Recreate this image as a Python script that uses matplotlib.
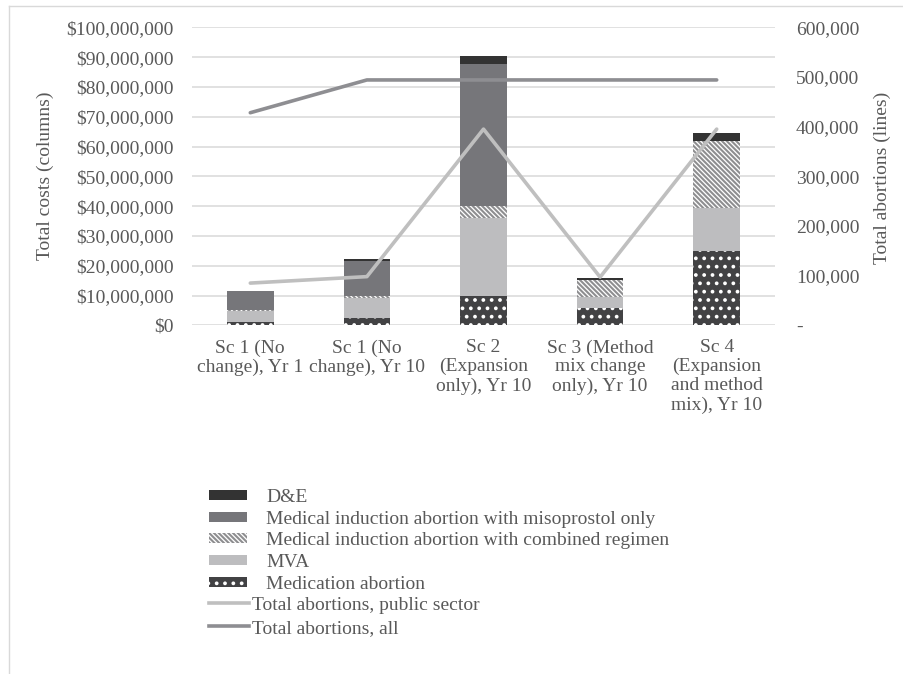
import matplotlib

matplotlib.use("Agg")
import matplotlib.pyplot as plt
from matplotlib.ticker import FuncFormatter, MultipleLocator
from matplotlib.patches import Patch
from matplotlib.lines import Line2D
import numpy as np

# Данные (в млн долларов и абортах)
categories = [
    "Sc 1 (No\nchange), Yr 1",
    "Sc 1 (No\nchange), Yr 10",
    "Sc 2\n(Expansion\nonly), Yr 10",
    "Sc 3 (Method\nmix change\nonly), Yr 10",
    "Sc 4\n(Expansion\nand method\nmix), Yr 10",
]
medication = [1.2, 2.3, 10.0, 5.9, 24.8]
mva = [3.6, 6.7, 26.0, 3.7, 14.6]
combined = [0.5, 0.8, 4.0, 5.6, 22.3]
misoprostol = [6.2, 11.7, 47.8, 0.1, 0.1]
dne = [0.1, 0.7, 2.7, 0.5, 2.6]
public_sector = [85000, 98000, 395000, 97000, 395000]
all_abortions = [428000, 494000, 494000, 494000, 494000]

TEXT_COLOR = "#595959"
GRID_COLOR = "#D9D9D9"
FONT = "Liberation Serif"
FS = 14

plt.rcParams["font.family"] = [FONT, "DejaVu Serif"]
plt.rcParams["hatch.linewidth"] = 1.5

fig = plt.figure(figsize=(9.04, 6.74), dpi=100)
W, H = 904, 674
ax = fig.add_axes([192 / W, 1 - 325.3 / H, (775 - 192) / W, (325.3 - 27.3) / H])

x = np.arange(len(categories))
bw = 0.4

# Стек столбцов: (значения, цвет, штриховка, цвет штриховки, подпись)
stack = [
    (medication, "#424244", "..", "white", "Medication abortion"),
    (mva, "#BDBDBF", None, None, "MVA"),
    (combined, "white", "\\" * 7, "#8E8E90", "Medical induction abortion with combined regimen"),
    (misoprostol, "#76767A", None, None, "Medical induction abortion with misoprostol only"),
    (dne, "#333333", None, None, "D&E"),
]

bottom = np.zeros(len(categories))
handles = {}
for vals, color, hatch, hcolor, label in stack:
    vals = np.array(vals) * 1e6
    kw = dict(width=bw, bottom=bottom, color=color, linewidth=0, zorder=2)
    if hatch:
        kw["hatch"] = hatch
        kw["edgecolor"] = hcolor
    ax.bar(x, vals, **kw)
    bottom = bottom + vals
    handles[label] = Patch(facecolor=color, hatch=hatch,
                           edgecolor=hcolor if hatch else color, linewidth=0)

ax.set_xlim(-0.5, len(categories) - 0.5)
ax.set_ylim(0, 100e6)
ax.yaxis.set_major_locator(MultipleLocator(10e6))
ax.yaxis.set_major_formatter(FuncFormatter(lambda v, p: f"${v:,.0f}"))
ax.yaxis.grid(True, color=GRID_COLOR, linewidth=1.1, zorder=0)
ax.set_axisbelow(True)
ax.set_xticks(x)
ax.set_xticklabels(categories, fontsize=FS, color=TEXT_COLOR, linespacing=1.15)
ax.tick_params(axis="x", length=0, pad=10)
ax.tick_params(axis="y", length=0, pad=13, labelsize=FS, labelcolor=TEXT_COLOR)
for s in ax.spines.values():
    s.set_visible(False)

ax2 = ax.twinx()
ax2.plot(x, public_sector, color="#BFBFBF", linewidth=2.6, solid_capstyle="round",
         zorder=3)
ax2.plot(x, all_abortions, color="#8E8E92", linewidth=2.6, solid_capstyle="round",
         zorder=3)
ax2.set_ylim(0, 600000)
ax2.yaxis.set_major_locator(MultipleLocator(100000))
ax2.yaxis.set_major_formatter(FuncFormatter(lambda v, p: "-" if v == 0 else f"{v:,.0f}"))
ax2.tick_params(axis="y", length=0, pad=15, labelsize=FS, labelcolor=TEXT_COLOR)
for s in ax2.spines.values():
    s.set_visible(False)

fig.text(45 / W, 1 - 176 / H, "Total costs (columns)", rotation=90, ha="center",
         va="center", fontsize=FS, color=TEXT_COLOR)
fig.text(882 / W, 1 - 178 / H, "Total abortions (lines)", rotation=90, ha="center",
         va="center", fontsize=FS, color=TEXT_COLOR)

# Легенда: столбцы
bar_labels = ["D&E",
              "Medical induction abortion with misoprostol only",
              "Medical induction abortion with combined regimen",
              "MVA",
              "Medication abortion"]
leg1 = fig.legend([handles[l] for l in bar_labels], bar_labels,
                  loc="upper left", bbox_to_anchor=(209 / W, 1 - 489 / H),
                  frameon=False, fontsize=FS, borderpad=0, borderaxespad=0,
                  handlelength=1.96, handleheight=0.4, handletextpad=0.98,
                  labelspacing=0.24, labelcolor=TEXT_COLOR)

# Легенда: линии
line_handles = [Line2D([0], [0], color="#BFBFBF", linewidth=2.6),
                Line2D([0], [0], color="#8E8E92", linewidth=2.6)]
leg2 = fig.legend(line_handles, ["Total abortions, public sector", "Total abortions, all"],
                  loc="upper left", bbox_to_anchor=(209 / W, 1 - 596 / H),
                  frameon=False, fontsize=FS, borderpad=0, borderaxespad=0,
                  handlelength=2.05, handletextpad=0.15, labelspacing=0.28,
                  labelcolor=TEXT_COLOR)

# Рамка диаграммы
fig.add_artist(Line2D([9 / W, 9 / W], [0, 1 - 6 / H], color=GRID_COLOR, linewidth=1))
fig.add_artist(Line2D([9 / W, 1], [1 - 6 / H, 1 - 6 / H], color=GRID_COLOR, linewidth=1))

fig.savefig("out.png", dpi=100)
